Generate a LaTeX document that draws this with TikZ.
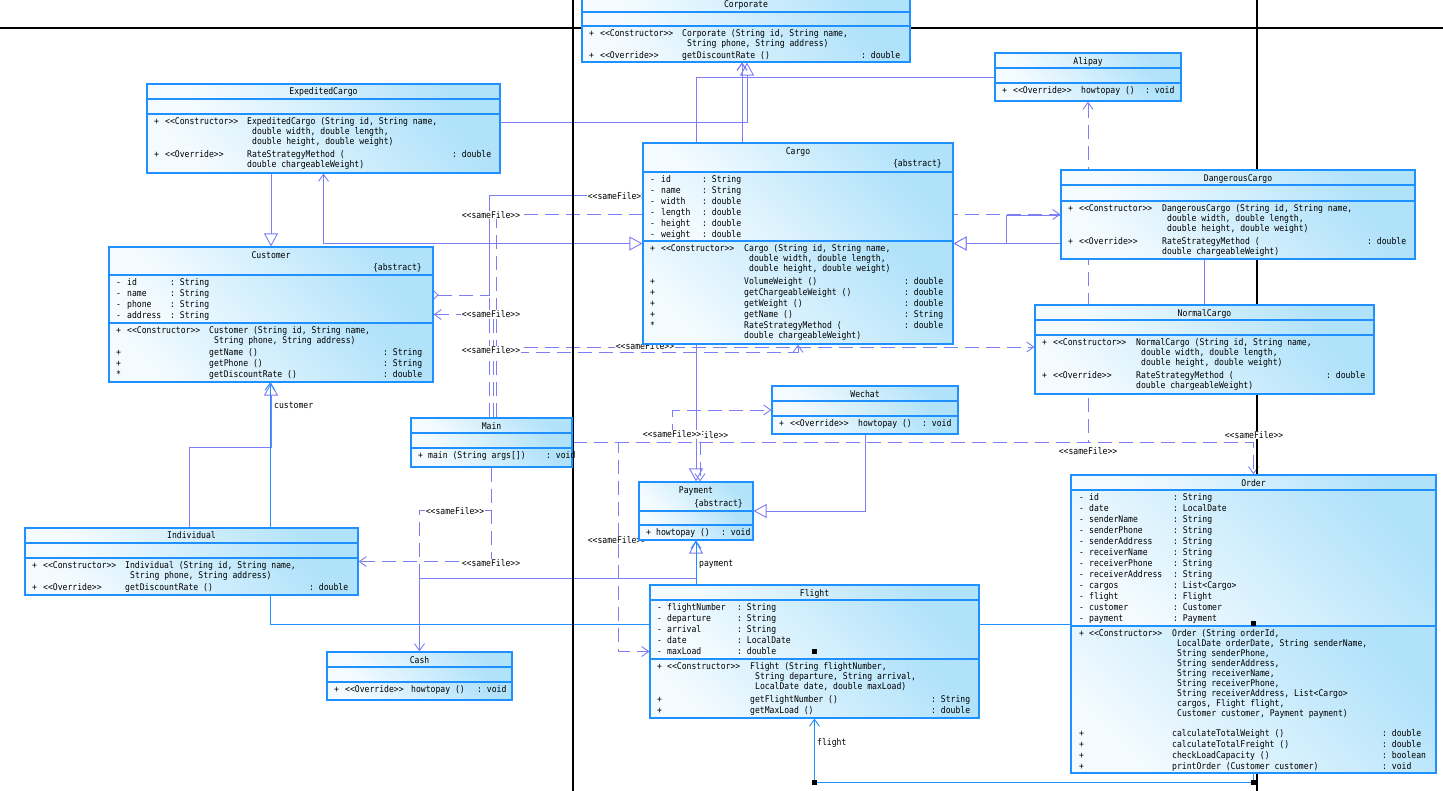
\documentclass[tikz,border=0pt]{standalone}
\usepackage{fontspec}
\setmonofont[FakeStretch=0.88]{DejaVu Sans Mono}
\usetikzlibrary{arrows.meta,fit}
\pgfdeclarelayer{back}
\pgfdeclarelayer{wires}
\pgfdeclarelayer{frame}
\pgfsetlayers{back,wires,frame,main}
\definecolor{umlblue}{RGB}{30,144,255}
\definecolor{wire}{RGB}{125,125,245}
\definecolor{clsA}{RGB}{244,251,255}
\definecolor{clsB}{RGB}{176,226,250}
\newcommand\umlfont{\ttfamily\fontsize{9.2}{10}\selectfont}
\newcommand\stereo[1]{<{}<#1>{}>}
\begin{document}
\begin{tikzpicture}[x=1pt,y=-1pt,
part fill/.style = {top color=clsA, bottom color=clsB, shading angle=135},
class box/.style = {draw=umlblue, line width=1.2pt, inner sep=0pt},
part line/.style = {draw=umlblue, line width=1.2pt},
title text/.style = {font=\umlfont, inner sep=0pt, anchor=base},
member text/.style = {font=\umlfont, inner sep=0pt, anchor=north west},
file label/.style = {font=\umlfont, inner sep=0.5pt, fill=white},
role label/.style = {font=\umlfont, inner sep=0pt},
gen line/.style = {draw=wire, line width=0.9pt, -{Triangle[open, length=13pt, width=14pt, fill=white]}},
dep line/.style = {draw=wire, line width=0.9pt, dash pattern=on 14pt off 7pt, -{Straight Barb[length=7pt, width=10pt]}},
assoc line/.style = {draw=umlblue, line width=0.9pt, -{Straight Barb[length=7pt, width=10pt]}},
page line/.style = {draw=black, line width=1.1pt},
sel mark/.style = {fill=black, inner sep=0pt, minimum size=5pt}]

\useasboundingbox (0,0) rectangle (1443,791);

% class boxes
\foreach \n/\xa/\ya/\xb/\yb/\yc/\yd in {corporate/582/-3/910/12/26/62,
  alipay/995/53/1181/68/83/101, expcargo/147/84/500/99/114/173,
  cargo/643/143/953/172/241/344, dangerous/1061/170/1415/185/201/259,
  normal/1035/305/1374/320/335/394, customer/109/247/433/275/323/382,
  mainc/411/418/572/433/448/467, individual/25/528/358/543/558/595,
  cash/327/652/512/667/682/700, wechat/772/386/958/401/416/434,
  payment/639/482/753/511/525/540, flight/650/585/979/600/659/718,
  order/1071/475/1436/490/626/773}{
  \path[part fill] (\xa,\ya) rectangle (\xb,\yb);
  \path[part fill] (\xa,\yb) rectangle (\xb,\yc);
  \path[part fill] (\xa,\yc) rectangle (\xb,\yd);
  \node[class box, fit={(\xa,\ya) (\xb,\yd)}] (\n) {};
  \draw[part line] (\xa,\yb) -- (\xb,\yb) (\xa,\yc) -- (\xb,\yc);
}

% titles
\node[title text] (corporate-t) at (746,7.5) {Corporate};
\node[title text] (alipay-t) at (1088,64.5) {Alipay};
\node[title text] (expcargo-t) at (323.5,94.5) {ExpeditedCargo};
\node[title text] (cargo-t) at (798,154.5) {Cargo};
\node[title text, anchor=base east] (cargo-ab) at (942,166.5) {\{abstract\}};
\node[title text] (dangerous-t) at (1238,181.5) {DangerousCargo};
\node[title text] (normal-t) at (1204.5,316.5) {NormalCargo};
\node[title text] (customer-t) at (271,258.5) {Customer};
\node[title text, anchor=base east] (customer-ab) at (422,270.5) {\{abstract\}};
\node[title text] (mainc-t) at (491.5,429.5) {Main};
\node[title text] (individual-t) at (191.5,538.5) {Individual};
\node[title text] (cash-t) at (419.5,663.5) {Cash};
\node[title text] (wechat-t) at (865,397.5) {Wechat};
\node[title text] (payment-t) at (696,493.5) {Payment};
\node[title text, anchor=base east] (payment-ab) at (743,506.5) {\{abstract\}};
\node[title text] (flight-t) at (814.5,596.5) {Flight};
\node[title text] (order-t) at (1253.5,486.5) {Order};

% members
\node[member text] (corporate-m) at (589,29) {\begin{tabular}{@{}p{11pt}@{}p{82pt}@{}p{179pt}@{}l@{}}
+ & \stereo{Constructor} & Corporate (String id, String name, & \\
 & & \hspace*{5pt}String phone, String address) & \\[2pt]
+ & \stereo{Override} & getDiscountRate () & : double
\end{tabular}};
\node[member text] (alipay-m) at (1002,86) {\begin{tabular}{@{}p{11pt}@{}p{68pt}@{}p{64pt}@{}l@{}}
+ & \stereo{Override} & howtopay () & : void
\end{tabular}};
\node[member text] (expcargo-m) at (154,117) {\begin{tabular}{@{}p{11pt}@{}p{82pt}@{}p{205pt}@{}l@{}}
+ & \stereo{Constructor} & ExpeditedCargo (String id, String name, & \\
 & & \hspace*{5pt}double width, double length, & \\
 & & \hspace*{5pt}double height, double weight) & \\[3pt]
+ & \stereo{Override} & RateStrategyMethod ( & : double \\
 & & double chargeableWeight) &
\end{tabular}};
\node[member text] (cargo-a) at (650,174.5) {\renewcommand\arraystretch{1.1}\begin{tabular}{@{}p{11pt}@{}p{41pt}@{}l@{}}
- & id & : String \\
- & name & : String \\
- & width & : double \\
- & length & : double \\
- & height & : double \\
- & weight & : double
\end{tabular}};
\node[member text] (cargo-m) at (650,244) {\begin{tabular}{@{}p{11pt}@{}p{83pt}@{}p{160pt}@{}l@{}}
+ & \stereo{Constructor} & Cargo (String id, String name, & \\
 & & \hspace*{5pt}double width, double length, & \\
 & & \hspace*{5pt}double height, double weight) & \\[3pt]
+ & & VolumeWeight () & : double \\[1pt]
+ & & getChargeableWeight () & : double \\[1pt]
+ & & getWeight () & : double \\[1pt]
+ & & getName () & : String \\[1pt]
{*} & & RateStrategyMethod ( & : double \\
 & & double chargeableWeight) &
\end{tabular}};
\node[member text] (dangerous-m) at (1068,204) {\begin{tabular}{@{}p{11pt}@{}p{83pt}@{}p{205pt}@{}l@{}}
+ & \stereo{Constructor} & DangerousCargo (String id, String name, & \\
 & & \hspace*{5pt}double width, double length, & \\
 & & \hspace*{5pt}double height, double weight) & \\[3pt]
+ & \stereo{Override} & RateStrategyMethod ( & : double \\
 & & double chargeableWeight) &
\end{tabular}};
\node[member text] (normal-m) at (1042,338) {\begin{tabular}{@{}p{11pt}@{}p{83pt}@{}p{190pt}@{}l@{}}
+ & \stereo{Constructor} & NormalCargo (String id, String name, & \\
 & & \hspace*{5pt}double width, double length, & \\
 & & \hspace*{5pt}double height, double weight) & \\[3pt]
+ & \stereo{Override} & RateStrategyMethod ( & : double \\
 & & double chargeableWeight) &
\end{tabular}};
\node[member text] (customer-a) at (116,277.5) {\renewcommand\arraystretch{1.1}\begin{tabular}{@{}p{11pt}@{}p{43pt}@{}l@{}}
- & id & : String \\
- & name & : String \\
- & phone & : String \\
- & address & : String
\end{tabular}};
\node[member text] (customer-m) at (116,326) {\begin{tabular}{@{}p{11pt}@{}p{82pt}@{}p{174pt}@{}l@{}}
+ & \stereo{Constructor} & Customer (String id, String name, & \\
 & & \hspace*{5pt}String phone, String address) & \\[2pt]
+ & & getName () & : String \\[1pt]
+ & & getPhone () & : String \\[1pt]
{*} & & getDiscountRate () & : double
\end{tabular}};
\node[member text] (mainc-m) at (418,451) {\begin{tabular}{@{}p{10pt}@{}p{118pt}@{}l@{}}
+ & main (String args[]) & : void
\end{tabular}};
\node[member text] (individual-m) at (32,561) {\begin{tabular}{@{}p{11pt}@{}p{82pt}@{}p{184pt}@{}l@{}}
+ & \stereo{Constructor} & Individual (String id, String name, & \\
 & & \hspace*{5pt}String phone, String address) & \\[2pt]
+ & \stereo{Override} & getDiscountRate () & : double
\end{tabular}};
\node[member text] (cash-m) at (334,685) {\begin{tabular}{@{}p{11pt}@{}p{66pt}@{}p{66pt}@{}l@{}}
+ & \stereo{Override} & howtopay () & : void
\end{tabular}};
\node[member text] (wechat-m) at (779,419) {\begin{tabular}{@{}p{11pt}@{}p{68pt}@{}p{64pt}@{}l@{}}
+ & \stereo{Override} & howtopay () & : void
\end{tabular}};
\node[member text] (payment-m) at (646,528) {\begin{tabular}{@{}p{10pt}@{}p{65pt}@{}l@{}}
+ & howtopay () & : void
\end{tabular}};
\node[member text] (flight-a) at (657,602.5) {\renewcommand\arraystretch{1.1}\begin{tabular}{@{}p{10pt}@{}p{70pt}@{}l@{}}
- & flightNumber & : String \\
- & departure & : String \\
- & arrival & : String \\
- & date & : LocalDate \\
- & maxLoad & : double
\end{tabular}};
\node[member text] (flight-m) at (657,662) {\begin{tabular}{@{}p{10pt}@{}p{83pt}@{}p{181pt}@{}l@{}}
+ & \stereo{Constructor} & Flight (String flightNumber, & \\
 & & \hspace*{5pt}String departure, String arrival, & \\
 & & \hspace*{5pt}LocalDate date, double maxLoad) & \\[3pt]
+ & & getFlightNumber () & : String \\[1pt]
+ & & getMaxLoad () & : double
\end{tabular}};
\node[member text] (order-a) at (1079,492.5) {\renewcommand\arraystretch{1.1}\begin{tabular}{@{}p{10pt}@{}p{84pt}@{}l@{}}
- & id & : String \\
- & date & : LocalDate \\
- & senderName & : String \\
- & senderPhone & : String \\
- & senderAddress & : String \\
- & receiverName & : String \\
- & receiverPhone & : String \\
- & receiverAddress & : String \\
- & cargos & : List<Cargo> \\
- & flight & : Flight \\
- & customer & : Customer \\
- & payment & : Payment
\end{tabular}};
\node[member text] (order-m) at (1079,629) {\begin{tabular}{@{}p{10pt}@{}p{83pt}@{}p{210pt}@{}l@{}}
+ & \stereo{Constructor} & Order (String orderId, & \\
 & & \hspace*{5pt}LocalDate orderDate, String senderName, & \\
 & & \hspace*{5pt}String senderPhone, & \\
 & & \hspace*{5pt}String senderAddress, & \\
 & & \hspace*{5pt}String receiverName, & \\
 & & \hspace*{5pt}String receiverPhone, & \\
 & & \hspace*{5pt}String receiverAddress, List<Cargo> & \\
 & & \hspace*{5pt}cargos, Flight flight, & \\
 & & \hspace*{5pt}Customer customer, Payment payment) & \\[10pt]
+ & & calculateTotalWeight () & : double \\[1pt]
+ & & calculateTotalFreight () & : double \\[1pt]
+ & & checkLoadCapacity () & : boolean \\[1pt]
+ & & printOrder (Customer customer) & : void
\end{tabular}};

\node[sel mark] (sel1) at (814.5,651) {};
\node[sel mark] (sel2) at (1253.5,623) {};
\node[sel mark] (sel3) at (814.5,782) {};
\node[sel mark] (sel4) at (1253.5,782) {};

\begin{pgfonlayer}{back}
\fill[white] (0,0) rectangle (1443,791);
\end{pgfonlayer}

% connectors
\begin{pgfonlayer}{wires}
\draw[gen line] (expcargo.south -| customer.north) -- (customer.north);
\draw[gen line, {Straight Barb[length=7pt, width=10pt]}-{Triangle[open, length=13pt, width=14pt, fill=white]}] (expcargo.south) |- (cargo.west);
\draw[gen line] ([yshift=6.5pt]expcargo.east) -| ([xshift=1pt]corporate.south);
\draw[gen line] (dangerous.west |- cargo.east) -- (cargo.east);
\draw[gen line] (normal.north) |- (1006,215) |- (cargo.east);
\draw[gen line] (alipay.west) -| (payment.north);
\draw[gen line] (wechat.south) |- (payment.east);
\draw[gen line] (cash.north) |- (696,578) -- (payment.south);
\draw[gen line] ([xshift=-2.5pt]individual.north) |- (271,447) -- (customer.south);

\draw[dep line] ([xshift=-2.5pt]mainc.north) |- (742,195) -- ([xshift=-4pt]corporate.south);
\draw[dep line, {Straight Barb[reversed, length=4pt, width=8pt]}-{Straight Barb[length=7pt, width=10pt]}] ([yshift=19.5pt]customer.east) -- (489,295) |- (742,195) -- ([xshift=-4pt]corporate.south);
\draw[dep line] ([xshift=4.5pt]mainc.north) |- (dangerous.west);
\draw[dep line] ([xshift=1.5pt]mainc.north) |- (customer.east);
\draw[dep line] ([xshift=-2.5pt]mainc.north) |- ([yshift=2.5pt]normal.west);
\draw[dep line] ([xshift=4.5pt]mainc.north) |- ([yshift=-8pt]cargo.south) -- (cargo.south);
\draw[dep line] (mainc.east) -| (alipay.south);
\draw[dep line] (mainc.east) -| (order.north);
\draw[dep line] (mainc.east) -- ++(100,0) |- (wechat.west);
\draw[dep line] (mainc.east) -| ([xshift=4pt]payment.north);
\draw[dep line] (mainc.east) -- ++(46,0) |- (flight.west);
\draw[dep line] (mainc.south) -- ++(0,43) -| (cash.north);
\draw[dep line] (mainc.south) |- (individual.east);

\draw[assoc line] (order.west) -| ([xshift=-1pt]customer.south);
\draw[assoc line] (order.west) -| (payment.south);
\draw[assoc line] (order.south) -- ++(0,9) -| (flight.south);
\end{pgfonlayer}

\begin{pgfonlayer}{frame}
\draw[page line] (0,28) -- (1443,28);
\draw[page line] (573,0) -- (573,791);
\draw[page line] (1257,0) -- (1257,791);
% labels
\node[file label] (sf1) at (617,196) {\stereo{sameFile}};
\node[file label] (sf2) at (491,215) {\stereo{sameFile}};
\node[file label] (sf3) at (491,314) {\stereo{sameFile}};
\node[file label] (sf4) at (491,350) {\stereo{sameFile}};
\node[file label] (sf5) at (645,346) {\stereo{sameFile}};
\node[file label] (sf7) at (699,435) {\stereo{sameFile}};
\node[file label] (sf6) at (672,434) {\stereo{sameFile}};
\node[file label] (sf8) at (617,540) {\stereo{sameFile}};
\node[file label] (sf9) at (455,511) {\stereo{sameFile}};
\node[file label] (sf10) at (491,563) {\stereo{sameFile}};
\node[file label] (sf11) at (1088,451) {\stereo{sameFile}};
\node[file label] (sf12) at (1254,435) {\stereo{sameFile}};
\node[role label, anchor=west] (rolecust) at ([xshift=3pt, yshift=-23pt]customer.south) {customer};
\node[role label, anchor=base west] (rolepay) at ([xshift=3pt, yshift=-26pt]payment.south) {payment};
\node[role label, anchor=base west] (roleflight) at ([xshift=2.5pt, yshift=-27pt]flight.south) {flight};
\end{pgfonlayer}
\end{tikzpicture}
\end{document}
